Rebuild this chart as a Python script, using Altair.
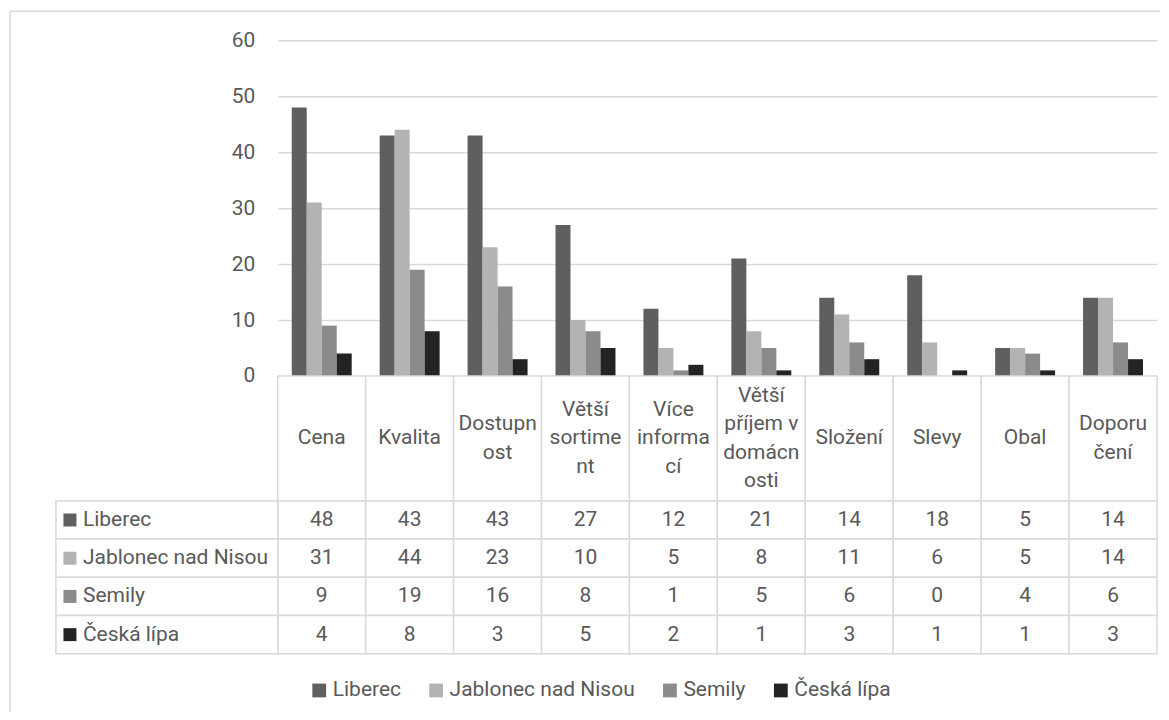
import altair as alt
import pandas as pd

categories = ["Cena", "Kvalita", "Dostupnost", "Větší sortiment", "Více informací",
              "Větší příjem v domácnosti", "Složení", "Slevy", "Obal", "Doporučení"]
header_labels = ["Cena", "Kvalita", "Dostupn\nost", "Větší\nsortime\nnt", "Více\ninforma\ncí",
                 "Větší\npříjem v\ndomácn\nosti", "Složení", "Slevy", "Obal", "Doporu\nčení"]
series = ["Liberec", "Jablonec nad Nisou", "Semily", "Česká lípa"]
liberec = [48, 43, 43, 27, 12, 21, 14, 18, 5, 14]
jablonec = [31, 44, 23, 10, 5, 8, 11, 6, 5, 14]
semily = [9, 19, 16, 8, 1, 5, 6, 0, 4, 6]
ceska_lipa = [4, 8, 3, 5, 2, 1, 3, 1, 1, 3]
colors = ["#5f5f5f", "#b3b3b3", "#8b8b8b", "#232323"]
y_ticks = [0, 10, 20, 30, 40, 50, 60]

values_by_series = [liberec, jablonec, semily, ceska_lipa]
rows = []
for s, vals in zip(series, values_by_series):
    for c, v in zip(categories, vals):
        rows.append({"series": s, "category": c, "value": v})
df = pd.DataFrame(rows)
hdf = pd.DataFrame({"category": categories, "label": header_labels})
sdf = pd.DataFrame({"series": series})

GRID = "#d9d9d9"
TXT = "#595959"
FS = 21
LH = 28.5
HEADER_H = 125

color_enc = alt.Color(
    "series:N", sort=series,
    scale=alt.Scale(domain=series, range=colors),
    legend=alt.Legend(
        orient="none", legendX=31, legendY=640, direction="horizontal", title=None,
        symbolType="square", symbolSize=190, symbolStrokeWidth=0, symbolOpacity=1,
        labelFontSize=FS, labelColor=TXT, labelOffset=3, labelLimit=0,
        columnPadding=24, padding=0,
    ),
)

x_bar = alt.X("category:N", sort=categories,
              scale=alt.Scale(paddingInner=0.318, paddingOuter=0.159), axis=None)

bars = alt.Chart(df).mark_bar().encode(
    x=x_bar,
    xOffset=alt.XOffset("series:N", sort=series, scale=alt.Scale(paddingInner=0, paddingOuter=0)),
    y=alt.Y("value:Q", scale=alt.Scale(domain=[0, 60], nice=False),
            axis=alt.Axis(values=y_ticks, title=None, domain=False, ticks=False,
                          labelPadding=23, gridColor=GRID, gridWidth=1.5,
                          labelFontSize=FS, labelColor=TXT)),
    color=color_enc,
)

frame = alt.Data(values=[{"k": 1}])
frame_left = alt.Chart(frame).mark_rule(color=GRID, strokeWidth=1.5).encode(
    x=alt.value(-268), y=alt.value(-29), y2=alt.value(672))
frame_top = alt.Chart(frame).mark_rule(color=GRID, strokeWidth=1.5).encode(
    x=alt.value(-268), x2=alt.value(883), y=alt.value(-29))

top = alt.layer(frame_left, frame_top, bars).properties(width=880, height=336)

x_tab = alt.X("category:N", sort=categories,
              scale=alt.Scale(paddingInner=0, paddingOuter=0), axis=None)

header = alt.layer(
    alt.Chart(hdf).mark_rect(fill="white", stroke=GRID, strokeWidth=1.5).encode(x=x_tab),
    alt.Chart(hdf).transform_calculate(
        ypos=f"{HEADER_H / 2} - (length(split(datum.label, '\\n')) - 1) * {LH / 2}"
    ).mark_text(fontSize=FS, color=TXT, lineBreak="\n", lineHeight=LH,
                baseline="middle").encode(
        x=x_tab, y=alt.Y("ypos:Q", scale=None), text="label:N"),
).properties(width=880, height=HEADER_H)

y_body = alt.Y("series:N", sort=series,
               scale=alt.Scale(paddingInner=0, paddingOuter=0), axis=None)

body = alt.layer(
    alt.Chart(df).mark_rect(fill="white", stroke=GRID, strokeWidth=1.5).encode(x=x_tab, y=y_body),
    alt.Chart(df).mark_text(fontSize=FS, color=TXT, baseline="middle").encode(
        x=x_tab, y=y_body, text="value:Q"),
    alt.Chart(sdf).mark_rect(fill="white", stroke=GRID, strokeWidth=1.5).encode(
        x=alt.value(-222), x2=alt.value(0), y=y_body),
    alt.Chart(sdf).mark_point(shape="square", filled=True, size=169, opacity=1).encode(
        x=alt.value(-208), y=y_body, color=color_enc),
    alt.Chart(sdf).mark_text(fontSize=FS, color=TXT, align="left", baseline="middle").encode(
        x=alt.value(-195), y=y_body, text="series:N"),
).properties(width=880, height=153)

chart = alt.vconcat(top, header, body, spacing=0, bounds="flush").resolve_scale(
    x="independent", y="independent", color="shared"
).properties(
    padding={"left": 1, "top": 2, "right": 0, "bottom": 0}
).configure(font="Roboto").configure_view(stroke=None)

chart.save("out.html", embed_options={"renderer": "svg", "actions": False})
